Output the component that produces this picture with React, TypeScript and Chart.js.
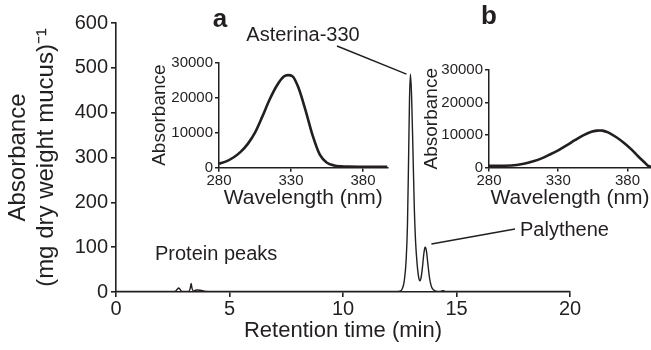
import React, { useEffect, useRef } from "react";
import { Chart, registerables } from "chart.js";

Chart.register(...registerables);

const INK = "#231f20";
const FONT = "'Liberation Sans', Arial, Helvetica, sans-serif";

// Main chromatogram
const retentionTime = [
  0, 2.5, 2.62, 2.7, 2.76, 2.82, 2.88, 3.0, 3.2, 3.27, 3.31, 3.35, 3.42, 3.5, 3.6, 3.75, 3.9, 4.2,
  6, 9, 12.3, 12.5, 12.6, 12.7, 12.78, 12.84, 12.89, 12.93, 12.97, 13.02, 13.08, 13.14, 13.2,
  13.27, 13.33, 13.39, 13.44, 13.5, 13.56, 13.6, 13.63, 13.68, 13.74, 13.81, 13.89, 13.98,
  14.1, 14.3, 14.4, 14.5, 14.7, 15, 17, 20,
];
const absorbance = [
  1, 1, 2, 6, 9, 6, 2, 1, 1.5, 8, 19, 8, 2, 4, 4.5, 3.5, 2, 1,
  1, 1, 1, 2, 6, 25, 70, 150, 300, 430, 486, 440, 320, 190, 110,
  60, 34, 25, 32, 55, 85, 98, 100, 90, 62, 32, 13, 5,
  2, 1.5, 3, 1.5, 1, 1, 1, 1,
];
const retentionTicks = [0, 5, 10, 15, 20];
const absorbanceTicks = [0, 100, 200, 300, 400, 500, 600];

// Inset a: Asterina-330 spectrum
const wavelengthA = [280, 285, 290, 295, 300, 305, 310, 315, 320, 325, 328, 331, 335, 340, 345, 350, 355, 360, 365, 370, 380, 390, 397];
const spectrumA = [1150, 1800, 2900, 4500, 6800, 10000, 14500, 19300, 23300, 26000, 26400, 26100, 23000, 16500, 9200, 3700, 1400, 650, 400, 320, 280, 250, 250];

// Inset b: Palythene spectrum
const wavelengthB = [280, 290, 296, 300, 306, 312, 318, 324, 330, 336, 342, 348, 354, 358, 360, 362, 366, 372, 378, 383, 388, 392, 395, 397];
const spectrumB = [500, 550, 600, 750, 1200, 1900, 2800, 4000, 5300, 6800, 8400, 9900, 11000, 11350, 11400, 11350, 10800, 9300, 7400, 5500, 3300, 1700, 500, 200];

const wavelengthTicks = [280, 330, 380];
const spectrumTicks = [0, 10000, 20000, 30000];

type AxisCfg = {
  min: number;
  max: number;
  ticks: number[];
  tickSize: number;
  tickLen: number;
  tickPad: number;
  title: string | string[];
  titleSize: number;
  titlePad: any;
  fit: number;
  lineWidth: number;
};

function axis(c: AxisCfg, horizontal: boolean) {
  return {
    type: "linear",
    min: c.min,
    max: c.max,
    afterBuildTicks: (s: any) => {
      s.ticks = c.ticks.map((v) => ({ value: v }));
    },
    afterFit: (s: any) => {
      if (horizontal) s.height = c.fit;
      else s.width = c.fit;
    },
    border: { display: true, color: INK, width: c.lineWidth },
    grid: {
      display: true,
      drawOnChartArea: false,
      drawTicks: true,
      tickLength: c.tickLen,
      color: INK,
      lineWidth: c.lineWidth,
    },
    ticks: {
      color: INK,
      font: { family: FONT, size: c.tickSize },
      padding: c.tickPad,
      maxRotation: 0,
      autoSkip: false,
      callback: (v: any) => String(v),
    },
    title: {
      display: true,
      text: c.title,
      color: INK,
      font: { family: FONT, size: c.titleSize, lineHeight: 1.15 },
      padding: c.titlePad,
    },
  };
}

const annotationPlugin = {
  id: "annotations",
  afterDraw(chart: any) {
    const { ctx } = chart;
    const x = chart.scales.x;
    const y = chart.scales.y;
    ctx.save();
    ctx.fillStyle = INK;
    ctx.strokeStyle = INK;
    ctx.lineWidth = 1.5;
    ctx.textBaseline = "middle";
    ctx.font = `20px ${FONT}`;
    ctx.textAlign = "center";
    ctx.fillText("Asterina-330", 303, 35);
    ctx.textAlign = "left";
    ctx.fillText("Palythene", 520, 230);
    ctx.fillText("Protein peaks", 155, 254);

    ctx.beginPath();
    ctx.moveTo(337, 46);
    ctx.lineTo(x.getPixelForValue(12.93) - 3, y.getPixelForValue(486));
    ctx.stroke();
    ctx.beginPath();
    ctx.moveTo(x.getPixelForValue(13.63) + 6, y.getPixelForValue(107));
    ctx.lineTo(515, 229);
    ctx.stroke();

    ctx.font = `bold 26px ${FONT}`;
    ctx.textAlign = "center";
    ctx.fillText("a", 220, 20);
    ctx.fillText("b", 489, 17);
    ctx.restore();
  },
};

function makeLine(canvas: HTMLCanvasElement, xs: number[], ys: number[], lw: number, xAxis: any, yAxis: any, padding: any, plugins: any[] = []) {
  return new Chart(canvas, {
    type: "line",
    data: {
      datasets: [
        {
          data: xs.map((v, i) => ({ x: v, y: ys[i] })),
          borderColor: INK,
          borderWidth: lw,
          pointRadius: 0,
          fill: false,
          cubicInterpolationMode: "monotone",
        },
      ],
    },
    options: {
      animation: false,
      responsive: false,
      devicePixelRatio: 1,
      layout: { padding },
      plugins: { legend: { display: false }, tooltip: { enabled: false } },
      scales: { x: xAxis, y: yAxis },
    } as any,
    plugins,
  } as any);
}

export default function App() {
  const mainRef = useRef<HTMLCanvasElement>(null);
  const aRef = useRef<HTMLCanvasElement>(null);
  const bRef = useRef<HTMLCanvasElement>(null);

  useEffect(() => {
    document.body.style.margin = "0";
    const main = makeLine(
      mainRef.current!,
      retentionTime,
      absorbance,
      1.4,
      axis({ min: 0, max: 20, ticks: retentionTicks, tickSize: 20, tickLen: 5, tickPad: 0, title: "Retention time (min)", titleSize: 22, titlePad: { top: 0, bottom: 6 }, fit: 58, lineWidth: 1.6 }, true),
      axis({ min: 0, max: 600, ticks: absorbanceTicks, tickSize: 20, tickLen: 5, tickPad: 3, title: ["Absorbance", "(mg dry weight mucus)\u207B\u00B9"], titleSize: 24, titlePad: { top: 5, bottom: 0 }, fit: 116, lineWidth: 1.6 }, false),
      { top: 23, right: 81, bottom: 0, left: 0 },
      [annotationPlugin]
    );
    const a = makeLine(
      aRef.current!,
      wavelengthA,
      spectrumA,
      2.6,
      axis({ min: 280, max: 397, ticks: wavelengthTicks, tickSize: 15, tickLen: 4, tickPad: 0, title: "Wavelength (nm)", titleSize: 21, titlePad: { top: 0, bottom: 1.5 }, fit: 44.3, lineWidth: 1.5 }, true),
      axis({ min: 0, max: 30000, ticks: spectrumTicks, tickSize: 15, tickLen: 4, tickPad: 2, title: "Absorbance", titleSize: 19, titlePad: { top: 3.5, bottom: 0 }, fit: 74, lineWidth: 1.5 }, false),
      { top: 12.5, right: 7.5, bottom: 0, left: 0 }
    );
    const b = makeLine(
      bRef.current!,
      wavelengthB,
      spectrumB,
      2.6,
      axis({ min: 280, max: 397, ticks: wavelengthTicks, tickSize: 15, tickLen: 4, tickPad: 0, title: "Wavelength (nm)", titleSize: 21, titlePad: { top: 0, bottom: 4.5 }, fit: 47.5, lineWidth: 1.5 }, true),
      axis({ min: 0, max: 30000, ticks: spectrumTicks, tickSize: 15, tickLen: 4, tickPad: 2, title: "Absorbance", titleSize: 19, titlePad: { top: 5.5, bottom: 0 }, fit: 74, lineWidth: 1.5 }, false),
      { top: 15, right: 0, bottom: 0, left: 0 }
    );
    return () => {
      main.destroy();
      a.destroy();
      b.destroy();
    };
  }, []);

  return (
    <div style={{ position: "relative", width: 651, height: 350, background: "#fff", overflow: "hidden" }}>
      <canvas ref={mainRef} width={651} height={350} style={{ position: "absolute", left: 0, top: 0, width: 651, height: 350 }} />
      <canvas ref={aRef} width={250} height={162} style={{ position: "absolute", left: 145, top: 50, width: 250, height: 162 }} />
      <canvas ref={bRef} width={236} height={160} style={{ position: "absolute", left: 415, top: 55, width: 236, height: 160 }} />
    </div>
  );
}
